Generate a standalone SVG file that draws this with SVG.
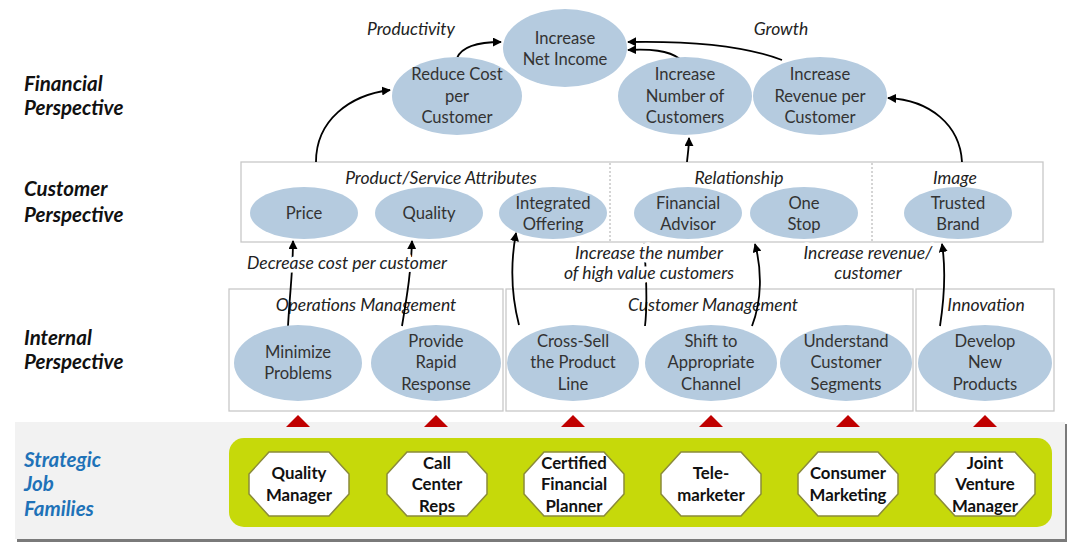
<svg xmlns="http://www.w3.org/2000/svg" width="1080" height="546" viewBox="0 0 1080 546">
<style>
.el{fill:#b5cbdf}
.t{font-family:Lato,"Open Sans",sans-serif;font-size:16.6px;fill:#333;text-anchor:middle}
.it{font-family:Lato,"Open Sans",sans-serif;font-size:17.5px;font-style:italic;fill:#222;text-anchor:middle}
.lbl{paint-order:stroke;stroke:#fff;stroke-width:7px;stroke-linejoin:round}
.persp{font-family:Lato,"Open Sans",sans-serif;font-size:20.5px;font-weight:bold;font-style:italic;fill:#111}
.sjf{font-family:Lato,"Open Sans",sans-serif;font-size:20.5px;font-weight:bold;font-style:italic;fill:#1f72b8}
.box{fill:#fff;stroke:#c8c8c8;stroke-width:1.3}
.oct{fill:#fff;stroke:#8a8a3a;stroke-width:1.5}
.ot{font-family:Lato,"Open Sans",sans-serif;font-size:16.8px;font-weight:bold;fill:#111;text-anchor:middle}
.con{fill:none;stroke:#000;stroke-width:1.8;marker-end:url(#ah)}
.tri{fill:#c00000}
</style>
<defs>
<marker id="ah" viewBox="0 0 10 10" refX="9" refY="5" markerWidth="5" markerHeight="5" orient="auto" markerUnits="strokeWidth">
<path d="M0 0 L10 5 L0 10 z" fill="#000"/>
</marker>
<polygon id="octshape" points="-30,-32 30,-32 50,-10 50,10 30,32 -30,32 -50,10 -50,-10"/>
</defs>
<rect width="1080" height="546" fill="#fff"/>

<g id="perspectives">
<text class="persp" x="24" y="91">Financial</text>
<text class="persp" x="24" y="115">Perspective</text>
<text class="persp" x="24" y="196">Customer</text>
<text class="persp" x="24" y="222">Perspective</text>
<text class="persp" x="24" y="345">Internal</text>
<text class="persp" x="24" y="369">Perspective</text>
</g>

<g id="customer-box">
<rect class="box" x="241" y="162" width="802" height="80"/>
<line x1="610" y1="163" x2="610" y2="241" stroke="#aaa" stroke-width="1" stroke-dasharray="2,2"/>
<line x1="872" y1="163" x2="872" y2="241" stroke="#aaa" stroke-width="1" stroke-dasharray="2,2"/>
<text class="it" x="441" y="184">Product/Service Attributes</text>
<text class="it" x="739" y="184">Relationship</text>
<text class="it" x="955" y="184">Image</text>
</g>

<g id="internal-boxes">
<rect class="box" x="229" y="289" width="274" height="122"/>
<rect class="box" x="506" y="289" width="407" height="122"/>
<rect class="box" x="916" y="289" width="138" height="122"/>
<text class="it" x="366" y="311">Operations Management</text>
<text class="it" x="713" y="311">Customer Management</text>
<text class="it" x="986" y="311">Innovation</text>
</g>

<g id="connectors">
<path class="con" d="M457 58 C462 46,480 42,501 42"/>
<path class="con" d="M316 162 C316 120,350 95,390 90"/>
<path class="con" d="M680 59 C668 50,650 49,628 50"/>
<path class="con" d="M782 60 C740 44,680 41,628 42"/>
<path class="con" d="M687 162 C688 152,689 146,689 138"/>
<path class="con" d="M962 162 C960 125,930 100,888 98"/>
<path class="con" d="M288 326 C290 290,293 270,293 241"/>
<path class="con" d="M402 326 C408 290,411 270,412 241"/>
<path class="con" d="M519 325 C510 290,511 260,516 233"/>
<path class="con" d="M645 326 C648 300,646 270,644 244"/>
<path class="con" d="M752 326 C762 300,762 270,755 244"/>
<path class="con" d="M940 326 C944 300,946 270,942 244"/>
</g>

<g id="connector-labels">
<text class="it lbl" x="411" y="35">Productivity</text>
<text class="it lbl" x="781" y="35">Growth</text>
<text class="it lbl" x="347" y="269">Decrease cost per customer</text>
<text class="it lbl" x="649" y="259">Increase the number</text>
<text class="it lbl" x="649" y="279">of high value customers</text>
<text class="it lbl" x="868" y="259">Increase revenue/</text>
<text class="it lbl" x="868" y="279">customer</text>
</g>

<g id="net-income"><ellipse class="el" cx="565" cy="48" rx="62" ry="39"/>
<text class="t" x="565" y="44">Increase</text><text class="t" x="565" y="65">Net Income</text></g>
<g id="reduce-cost"><ellipse class="el" cx="457" cy="96" rx="65" ry="39"/>
<text class="t" x="457" y="80">Reduce Cost</text><text class="t" x="457" y="102">per</text><text class="t" x="457" y="123">Customer</text></g>
<g id="increase-number"><ellipse class="el" cx="685" cy="96" rx="67" ry="39"/>
<text class="t" x="685" y="80">Increase</text><text class="t" x="685" y="102">Number of</text><text class="t" x="685" y="123">Customers</text></g>
<g id="increase-revenue"><ellipse class="el" cx="820" cy="96" rx="67" ry="39"/>
<text class="t" x="820" y="80">Increase</text><text class="t" x="820" y="102">Revenue per</text><text class="t" x="820" y="123">Customer</text></g>

<g id="price"><ellipse class="el" cx="304" cy="213" rx="54" ry="26"/><text class="t" x="304" y="219">Price</text></g>
<g id="quality"><ellipse class="el" cx="429" cy="213" rx="54" ry="26"/><text class="t" x="429" y="219">Quality</text></g>
<g id="integrated-offering"><ellipse class="el" cx="553" cy="213" rx="54" ry="26"/><text class="t" x="553" y="209">Integrated</text><text class="t" x="553" y="230">Offering</text></g>
<g id="financial-advisor"><ellipse class="el" cx="688" cy="213" rx="54" ry="26"/><text class="t" x="688" y="209">Financial</text><text class="t" x="688" y="230">Advisor</text></g>
<g id="one-stop"><ellipse class="el" cx="804" cy="213" rx="54" ry="26"/><text class="t" x="804" y="209">One</text><text class="t" x="804" y="230">Stop</text></g>
<g id="trusted-brand"><ellipse class="el" cx="958" cy="213" rx="54" ry="26"/><text class="t" x="958" y="209">Trusted</text><text class="t" x="958" y="230">Brand</text></g>

<g id="minimize-problems"><ellipse class="el" cx="298" cy="363" rx="64" ry="38"/><text class="t" x="298" y="358">Minimize</text><text class="t" x="298" y="379">Problems</text></g>
<g id="provide-rapid"><ellipse class="el" cx="436" cy="363" rx="65" ry="38"/><text class="t" x="436" y="347">Provide</text><text class="t" x="436" y="368">Rapid</text><text class="t" x="436" y="390">Response</text></g>
<g id="cross-sell"><ellipse class="el" cx="573" cy="363" rx="66" ry="38"/><text class="t" x="573" y="347">Cross-Sell</text><text class="t" x="573" y="368">the Product</text><text class="t" x="573" y="390">Line</text></g>
<g id="shift-channel"><ellipse class="el" cx="711" cy="363" rx="66" ry="38"/><text class="t" x="711" y="347">Shift to</text><text class="t" x="711" y="368">Appropriate</text><text class="t" x="711" y="390">Channel</text></g>
<g id="understand-segments"><ellipse class="el" cx="846" cy="363" rx="66" ry="38"/><text class="t" x="846" y="347">Understand</text><text class="t" x="846" y="368">Customer</text><text class="t" x="846" y="390">Segments</text></g>
<g id="develop-products"><ellipse class="el" cx="985" cy="363" rx="67" ry="38"/><text class="t" x="985" y="347">Develop</text><text class="t" x="985" y="368">New</text><text class="t" x="985" y="390">Products</text></g>

<g id="strategic-band">
<rect x="17" y="424" width="1050" height="118" fill="#7a7a7a"/>
<rect x="15" y="422" width="1050" height="117" fill="#f2f2f2"/>
<rect x="229" y="438" width="823" height="89" rx="15" fill="#c6d90a"/>
<text class="sjf" x="24" y="467">Strategic</text>
<text class="sjf" x="24" y="491">Job</text>
<text class="sjf" x="24" y="516">Families</text>
</g>

<g id="triangles">
<polygon class="tri" points="286,427 298,415 310,427"/>
<polygon class="tri" points="424,427 436,415 448,427"/>
<polygon class="tri" points="561,427 573,415 585,427"/>
<polygon class="tri" points="699,427 711,415 723,427"/>
<polygon class="tri" points="836,427 848,415 860,427"/>
<polygon class="tri" points="973,427 985,415 997,427"/>
</g>

<g id="quality-manager"><use href="#octshape" class="oct" x="299" y="484"/><text class="ot" x="299" y="479">Quality</text><text class="ot" x="299" y="501">Manager</text></g>
<g id="call-center-reps"><use href="#octshape" class="oct" x="437" y="484"/><text class="ot" x="437" y="469">Call</text><text class="ot" x="437" y="490">Center</text><text class="ot" x="437" y="512">Reps</text></g>
<g id="certified-planner"><use href="#octshape" class="oct" x="574" y="484"/><text class="ot" x="574" y="469">Certified</text><text class="ot" x="574" y="490">Financial</text><text class="ot" x="574" y="512">Planner</text></g>
<g id="telemarketer"><use href="#octshape" class="oct" x="711" y="484"/><text class="ot" x="711" y="479">Tele-</text><text class="ot" x="711" y="501">marketer</text></g>
<g id="consumer-marketing"><use href="#octshape" class="oct" x="848" y="484"/><text class="ot" x="848" y="479">Consumer</text><text class="ot" x="848" y="501">Marketing</text></g>
<g id="joint-venture"><use href="#octshape" class="oct" x="985" y="484"/><text class="ot" x="985" y="469">Joint</text><text class="ot" x="985" y="490">Venture</text><text class="ot" x="985" y="512">Manager</text></g>
</svg>
